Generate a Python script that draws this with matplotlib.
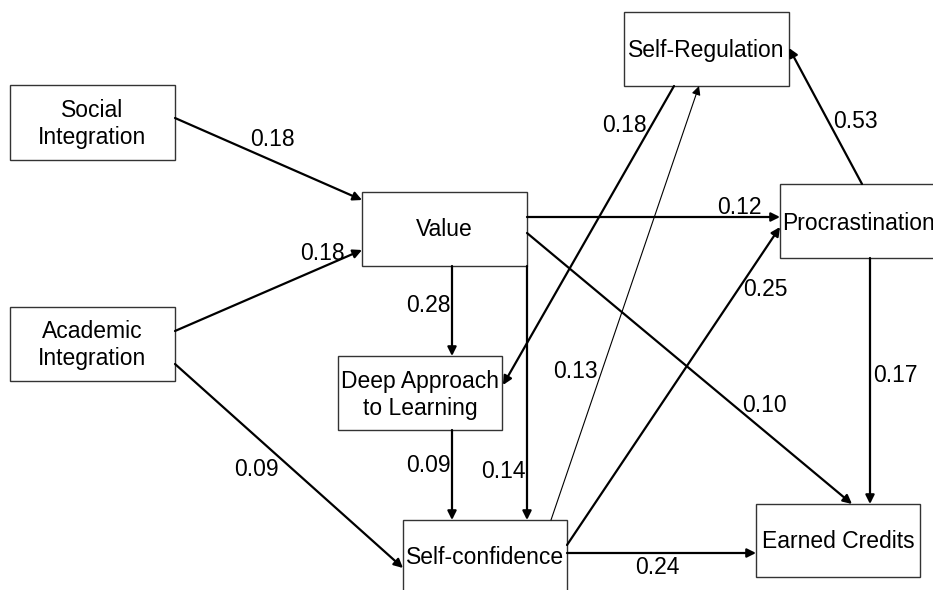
import matplotlib.pyplot as plt
from matplotlib.patches import Rectangle, FancyArrowPatch

plt.rcParams['font.family'] = ['Liberation Sans', 'DejaVu Sans']

# variables in the path model
nodes = ['Social\nIntegration', 'Academic\nIntegration', 'Value', 'Deep Approach\nto Learning',
         'Self-confidence', 'Self-Regulation', 'Procrastination', 'Earned Credits']

# paths: source -> target and standardized coefficient
src = [0, 1, 2, 3, 2, 1, 5, 4, 2, 4, 2, 6, 6, 4]
dst = [2, 2, 3, 4, 4, 4, 3, 5, 6, 6, 7, 7, 5, 7]
coefs = [0.18, 0.18, 0.28, 0.09, 0.14, 0.09, 0.18, 0.13, 0.12, 0.25, 0.10, 0.17, 0.53, 0.24]

# layout (pixels): box x0, y0, x1, y1
boxes = [(10, 85, 175, 160), (10, 307, 175, 381), (362, 192, 527, 266), (338, 356, 502, 430),
         (403, 520, 567, 598), (624, 12, 789, 86), (780, 184, 945, 258), (756, 504, 920, 577)]
text_y = [124, 345, 230, 395, 558, 50, 224, 541]
text_x = [None, None, None, None, None, None, 858, None]
# arrow start/end points and label positions
paths = [((175, 118), (362, 200)), ((175, 331), (362, 250)), ((452, 266), (452, 356)),
         ((452, 430), (452, 520)), ((527, 266), (527, 520)), ((175, 364), (403, 568)),
         ((674, 86), (503, 385)), ((551, 520), (699, 86)), ((527, 217), (780, 217)),
         ((567, 545), (780, 227)), ((527, 233), (852, 504)), ((870, 258), (870, 504)),
         ((862, 184), (789, 48)), ((567, 553), (756, 553))]
label_xy = [(272, 140), (322, 253), (428, 305), (428, 466), (503, 471), (256, 469),
            (624, 125), (575, 371), (739, 207), (765, 290), (764, 405), (895, 375),
            (855, 122), (657, 567)]
thin = [7]

fig = plt.figure(figsize=(9.33, 5.9), dpi=100)
ax = fig.add_axes([0, 0, 1, 1])
ax.set_xlim(0, 933)
ax.set_ylim(590, 0)
ax.axis('off')

for i, name in enumerate(nodes):
    x0, y0, x1, y1 = boxes[i]
    ax.add_patch(Rectangle((x0, y0), x1 - x0, y1 - y0, fill=True, facecolor='white',
                           edgecolor='#333333', lw=1.0, zorder=1))
    cx = text_x[i] if text_x[i] is not None else (x0 + x1) / 2
    ax.text(cx, text_y[i], name, ha='center', va='center', fontsize=16.5,
            linespacing=1.2, zorder=5)

for k in range(len(coefs)):
    (xa, ya), (xb, yb) = paths[k]
    lw = 0.8 if k in thin else 1.6
    arr = FancyArrowPatch((xa, ya), (xb, yb), arrowstyle='-|>', mutation_scale=13,
                          shrinkA=0, shrinkB=0, color='black', lw=lw, zorder=3)
    ax.add_patch(arr)
    lx, ly = label_xy[k]
    ax.text(lx, ly, f'{coefs[k]:.2f}', ha='center', va='center', fontsize=16.5, zorder=4)

fig.savefig('out.png', dpi=100)
